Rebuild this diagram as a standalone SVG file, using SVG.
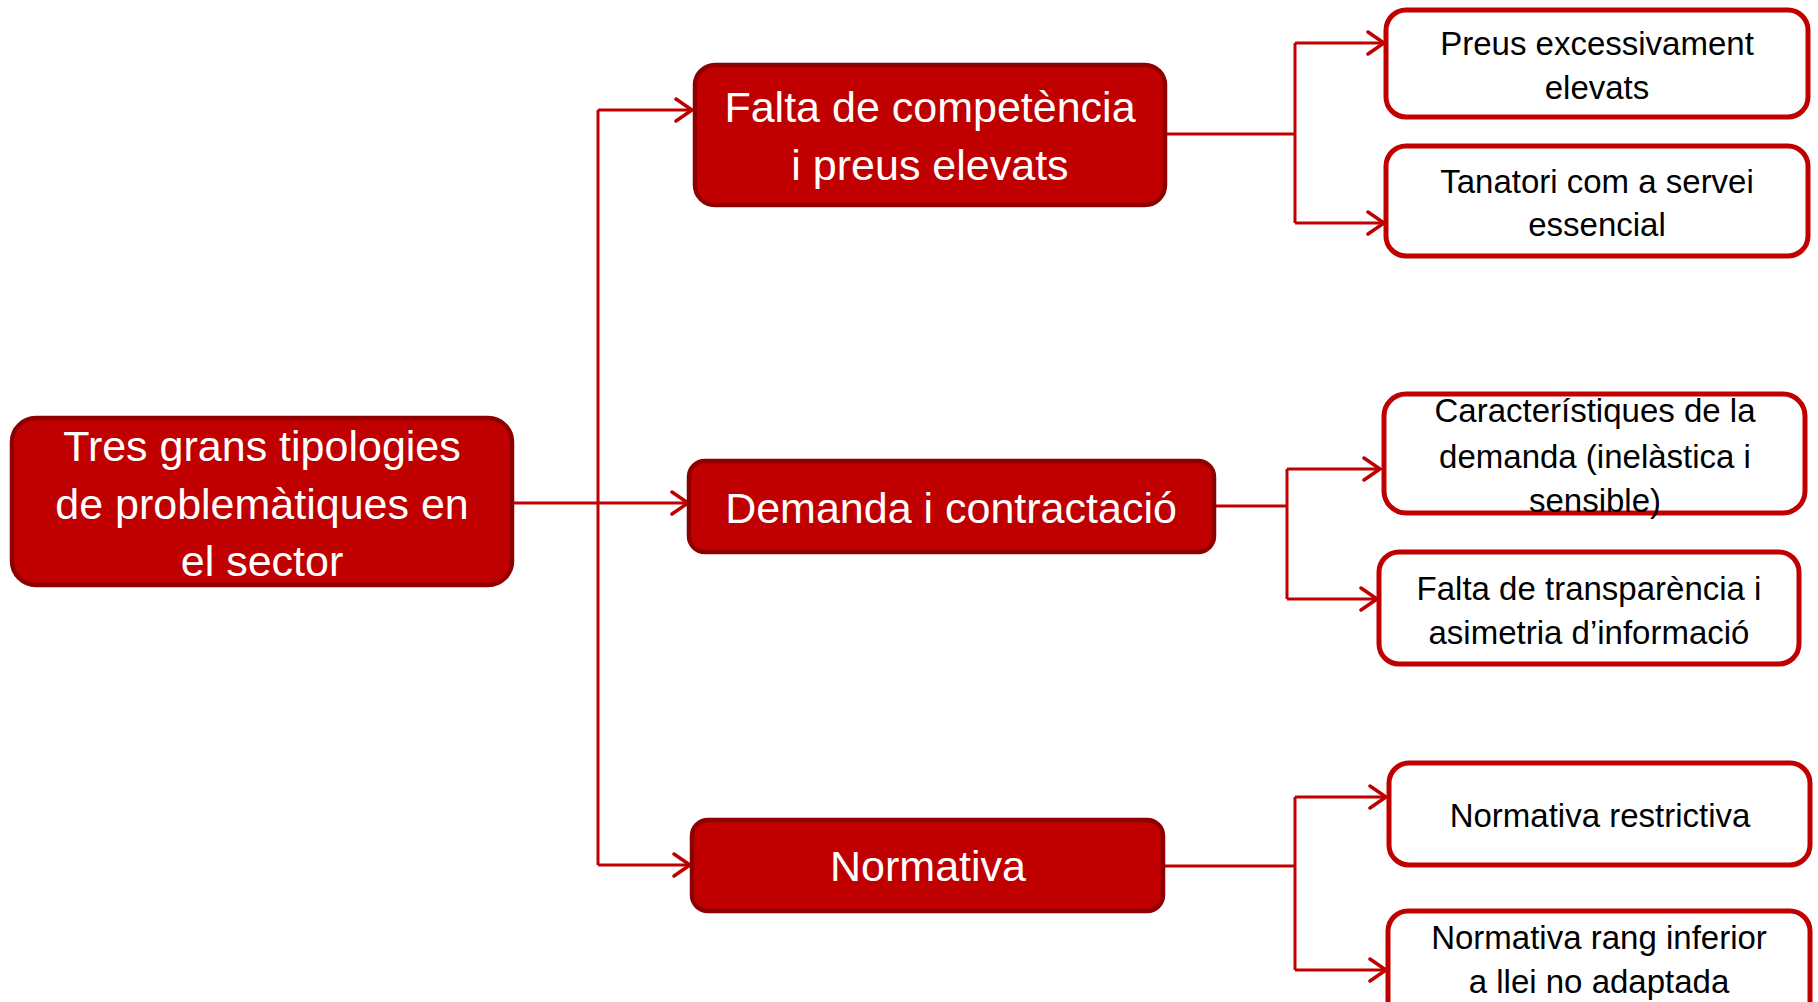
<svg xmlns="http://www.w3.org/2000/svg" width="1818" height="1002" viewBox="0 0 1818 1002">
<defs>
<style>
.dark rect{fill:#C00000;stroke:#8E0000;stroke-width:4.5}
.dark text{fill:#FFFFFF;font-family:"Liberation Sans",Arial,sans-serif;font-size:43px;text-anchor:middle}
.leaf rect{fill:#FFFFFF;stroke:#C00000;stroke-width:5}
.leaf text{fill:#000000;font-family:"Liberation Sans",Arial,sans-serif;font-size:33px;text-anchor:middle}
.conn path{fill:none;stroke:#C00000;stroke-width:3}
</style>
<marker id="arr" viewBox="0 0 20 26" refX="18" refY="13" markerWidth="20" markerHeight="26" markerUnits="userSpaceOnUse" orient="auto">
<path d="M2,2 L18,13 L2,24" fill="none" stroke="#C00000" stroke-width="3.5" stroke-linecap="round"/>
</marker>
</defs>
<rect width="1818" height="1002" fill="#FFFFFF"/>
<g id="connectors" class="conn">
<path d="M512,503 H688" marker-end="url(#arr)"/>
<path d="M598,110 V865"/>
<path d="M598,110 H692" marker-end="url(#arr)"/>
<path d="M598,865 H690" marker-end="url(#arr)"/>
<path d="M1165,134 H1295"/>
<path d="M1295,43 V223"/>
<path d="M1295,43 H1384" marker-end="url(#arr)"/>
<path d="M1295,223 H1384" marker-end="url(#arr)"/>
<path d="M1214,506 H1287"/>
<path d="M1287,469 V599"/>
<path d="M1287,469 H1380" marker-end="url(#arr)"/>
<path d="M1287,599 H1377" marker-end="url(#arr)"/>
<path d="M1163,866 H1295"/>
<path d="M1295,797 V970"/>
<path d="M1295,797 H1386" marker-end="url(#arr)"/>
<path d="M1295,970 H1386" marker-end="url(#arr)"/>
</g>
<g id="root" class="dark">
<rect x="12" y="418" width="500" height="167" rx="24"/>
<text x="262" y="461">Tres grans tipologies</text>
<text x="262" y="519">de problemàtiques en</text>
<text x="262" y="576">el sector</text>
</g>
<g id="falta-competencia" class="dark">
<rect x="695" y="65" width="470" height="140" rx="20"/>
<text x="930" y="122">Falta de competència</text>
<text x="930" y="180">i preus elevats</text>
</g>
<g id="demanda" class="dark">
<rect x="689" y="461" width="525" height="91" rx="16"/>
<text x="951" y="523">Demanda i contractació</text>
</g>
<g id="normativa" class="dark">
<rect x="692" y="820" width="471" height="91" rx="16"/>
<text x="928" y="881">Normativa</text>
</g>
<g id="preus" class="leaf">
<rect x="1386" y="10" width="422" height="107" rx="20"/>
<text x="1597" y="55">Preus excessivament</text>
<text x="1597" y="99">elevats</text>
</g>
<g id="tanatori" class="leaf">
<rect x="1386" y="146" width="422" height="110" rx="20"/>
<text x="1597" y="193">Tanatori com a servei</text>
<text x="1597" y="236">essencial</text>
</g>
<g id="caracteristiques" class="leaf">
<rect x="1384" y="394" width="421" height="119" rx="22"/>
<text x="1595" y="422">Característiques de la</text>
<text x="1595" y="468">demanda (inelàstica i</text>
<text x="1595" y="512">sensible)</text>
</g>
<g id="transparencia" class="leaf">
<rect x="1379" y="552" width="420" height="112" rx="20"/>
<text x="1589" y="600">Falta de transparència i</text>
<text x="1589" y="644">asimetria d’informació</text>
</g>
<g id="restrictiva" class="leaf">
<rect x="1389" y="763" width="421" height="102" rx="20"/>
<text x="1600" y="827">Normativa restrictiva</text>
</g>
<g id="rang-inferior" class="leaf">
<rect x="1388" y="911" width="422" height="110" rx="20"/>
<text x="1599" y="949">Normativa rang inferior</text>
<text x="1599" y="993">a llei no adaptada</text>
</g>
</svg>
